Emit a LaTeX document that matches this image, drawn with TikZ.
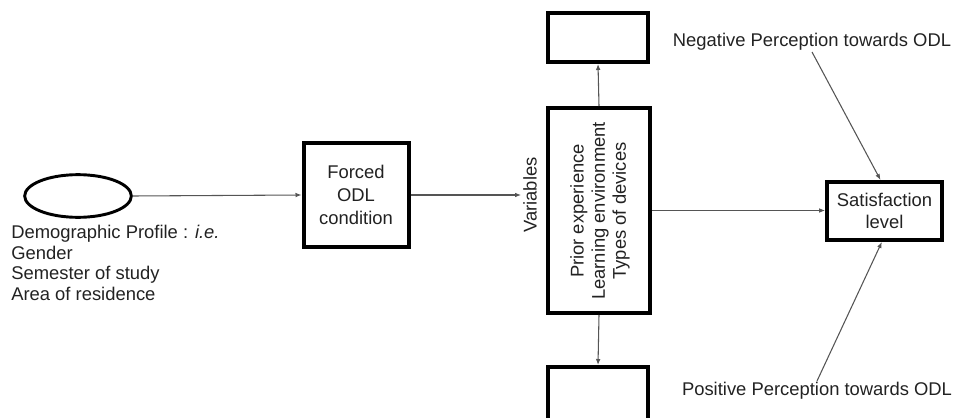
\documentclass[tikz,border=0pt]{standalone}
\usepackage{fontspec}
\setmainfont{Liberation Sans}
\usetikzlibrary{shapes.geometric,arrows.meta,positioning}
\definecolor{txt}{HTML}{222222}
\definecolor{ln}{HTML}{555555}
\begin{document}
\begin{tikzpicture}[x=0.75pt,y=-0.75pt,
  every node/.style={font=\fontsize{13.8}{16}\selectfont, text=txt},
  thickbox/.style={draw=black, line width=3pt, fill=white, inner sep=2pt, align=center},
  arr/.style={draw=ln, line width=0.8pt, -{Latex[length=4.5pt,width=3.5pt]}},
  plain/.style={inner sep=0pt}]
\useasboundingbox (0,0) rectangle (955,417);
% nodes
\node[ellipse, draw=black, line width=2.2pt, minimum width=80pt, minimum height=32pt] (demo) at (78,196) {};
\node[plain, anchor=north west, align=left, font=\fontsize{13.8}{15.5}\selectfont] (demotext) at (11,225)
  {Demographic Profile : \textit{i.e.}\\Gender\\Semester of study\\Area of residence};
\node[thickbox, minimum width=78.75pt, minimum height=78pt, font=\fontsize{13.8}{17}\selectfont] (forced) at (356,195) {Forced\\ODL\\condition};
\node[rotate=90, anchor=north, inner sep=1.5pt] (var) at (521,195) {Variables};
\node[thickbox, minimum width=76.5pt, minimum height=153.75pt] (vars) at (599,210.5) {};
\node[rotate=90, align=center, inner sep=0pt, font=\fontsize{13.8}{15.8}\selectfont] (varstext) at (600,211) {Prior experience\\Learning environment\\Types of devices};
\node[thickbox, minimum width=75pt, minimum height=36.75pt] (top) at (598,37.5) {};
\node[thickbox, minimum width=75pt, minimum height=45pt] (bot) at (598,397) {};
\node[thickbox, minimum width=86pt, minimum height=43.5pt, font=\fontsize{13.8}{16.5}\selectfont] (sat) at (884.5,211) {Satisfaction\\level};
\node[inner sep=1pt, anchor=south] (neg) at (812,52) {Negative Perception towards ODL};
\node[inner sep=1pt, anchor=north] (pos) at (817,381) {Positive Perception towards ODL};
% connectors
\draw[arr] (demo.east) -- (forced.west);
\draw[arr] (forced.east) -- (var.north);
\draw[arr] (vars.north) -- (top.south);
\draw[arr] (vars.south) -- (bot.north);
\draw[arr] (vars.east) -- (vars.east -| sat.west);
\draw[arr] (neg.south) -- ([xshift=-3pt]sat.north);
\draw[arr] (pos.north) -- ([xshift=-2pt]sat.south);
\end{tikzpicture}
\end{document}
